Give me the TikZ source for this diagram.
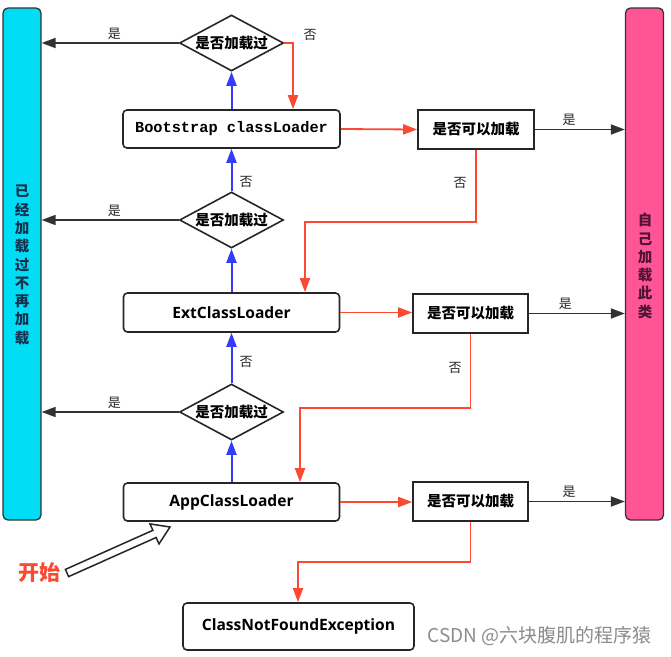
\documentclass[tikz,border=0pt]{standalone}
\usepackage{fontspec}
\setmainfont{Open Sans}
\setmonofont{Liberation Mono}
\newfontfamily\cjk{Noto Sans CJK SC}
\usetikzlibrary{arrows.meta,shapes.geometric}
\definecolor{cyanbar}{RGB}{0,221,245}
\definecolor{pinkbar}{RGB}{255,85,150}
\definecolor{redline}{RGB}{250,75,50}
\definecolor{blueline}{RGB}{50,60,250}
\definecolor{darkline}{RGB}{50,50,50}
\begin{document}
\begin{tikzpicture}[x=1pt,y=-1pt,
  box/.style={draw=black!85,line width=1.6pt,rounded corners=4pt,fill=white,inner sep=0pt},
  qbox/.style={draw=black!85,line width=1.6pt,fill=white,inner sep=0pt,minimum width=115,minimum height=39,
     font=\cjk\bfseries\fontsize{14.5}{16}\selectfont},
  dia/.style={diamond,draw=black!85,line width=1.6pt,fill=white,inner sep=0pt,aspect=2,minimum width=104,minimum height=56,
     font=\cjk\bfseries\fontsize{14.5}{16}\selectfont},
  bar/.style={draw=black!80,line width=1.3pt,rounded corners=5pt,inner sep=0pt,minimum width=38,minimum height=512},
  tip/.style={-{Triangle[length=14pt,width=10pt]}},
  redarr/.style={draw=redline,line width=1.8pt,tip},
  bluearr/.style={draw=blueline,line width=2pt,tip},
  blackarr/.style={draw=darkline,line width=1.8pt,tip},
  lab/.style={font=\cjk\fontsize{13}{14}\selectfont,text=black!85,inner sep=1pt},
  bartext/.style={font=\cjk\bfseries\fontsize{14.5}{18.3}\selectfont,align=center}
]
\useasboundingbox (0,0) rectangle (671,656);
\fill[white] (0,0) rectangle (671,656);

% side bars
\node[bar,fill=cyanbar] (lbar) at (22,264) {};
\node[bar,fill=pinkbar] (rbar) at (644.5,264) {};
\node[bartext,text={rgb,255:red,20;green,50;blue,80}] (ltext) at (22,265) {已\\经\\加\\载\\过\\不\\再\\加\\载};
\node[bartext,text={rgb,255:red,80;green,20;blue,50}] (rtext) at (645,266) {自\\己\\加\\载\\此\\类};

% loaders
\node[box,minimum width=217,minimum height=38,font=\ttfamily\bfseries\fontsize{15.3}{16}\selectfont] (boot) at (231.5,129) {Bootstrap classLoader};
\node[box,minimum width=216,minimum height=39,font=\bfseries\fontsize{15.6}{16}\selectfont] (ext) at (231.5,312.5) {ExtClassLoader};
\node[box,minimum width=216,minimum height=38,font=\bfseries\fontsize{15.6}{16}\selectfont] (app) at (231.5,502) {AppClassLoader};
\node[box,minimum width=231,minimum height=47,font=\bfseries\fontsize{15.6}{16}\selectfont] (cnfe) at (298.5,626.5) {ClassNotFoundException};

% diamonds
\node[dia] (d1) at (231.5,43) {是否加载过};
\node[dia] (d2) at (231.5,220) {是否加载过};
\node[dia] (d3) at (231.5,412) {是否加载过};

% can-load boxes
\node[qbox,minimum width=116] (q1) at (476,129.5) {是否可以加载};
\node[qbox] (q2) at (470.5,313.5) {是否可以加载};
\node[qbox] (q3) at (470.5,501.5) {是否可以加载};

% blue upward arrows
\draw[bluearr] (app.north) -- (d3.south);
\draw[bluearr] (d3.north) -- (ext.south);
\draw[bluearr] (ext.north) -- (d2.south);
\draw[bluearr] (d2.north) -- (boot.south);
\draw[bluearr] (boot.north) -- (d1.south);
\node[lab] (n2) at (246,182) {否};
\node[lab] (n3) at (246,362) {否};

% already loaded -> left bar
\draw[blackarr] (d1.west) -- node[lab,above=2pt,pos=0.47] (y1) {是} (lbar.east |- d1.west);
\draw[blackarr] (d2.west) -- node[lab,above=2pt,pos=0.47] (y2) {是} (lbar.east |- d2.west);
\draw[blackarr] (d3.west) -- node[lab,above=2pt,pos=0.47] (y3) {是} (lbar.east |- d3.west);

% top diamond no -> bootstrap
\draw[redarr] (d1.east) -| ([xshift=61.5pt]boot.north);
\node[lab] (n1) at (310,35) {否};

% loaders -> can-load boxes
\draw[redarr] (boot.east) -- (q1.west);
\draw[redarr] (ext.east) -- (q2.west |- ext.east);
\draw[redarr] (app.east) -- (q3.west |- app.east);

% can-load yes -> right bar
\draw[blackarr] (q1.east) -- node[lab,above=2pt,pos=0.38] (y4) {是} (rbar.west |- q1.east);
\draw[blackarr] (q2.east) -- node[lab,above=2pt,pos=0.38] (y5) {是} (rbar.west |- q2.east);
\draw[blackarr] (q3.east) -- node[lab,above=2pt,pos=0.42] (y6) {是} (rbar.west |- q3.east);

% can-load no -> next loader
\coordinate (c1) at (305,222);
\coordinate (c2) at (300,408);
\coordinate (c3) at (298,562);
\draw[redarr] (q1.south) |- (c1) -- (c1 |- ext.north);
\draw[redarr] (q2.south) |- (c2) -- (c2 |- app.north);
\draw[redarr] (q3.south) |- (c3) -- (c3 |- cnfe.north);
\node[lab] (n4) at (460,183) {否};
\node[lab] (n5) at (455,368) {否};

% start
\node[font=\cjk\bfseries\fontsize{21}{22}\selectfont,text=redline] (start) at (39,573) {开始};
\draw[line width=1.5pt,draw=black!85,fill=white,line join=miter]
  (68.6,576.6) -- (156.1,537.5) -- (159.0,543.9) -- (170,527) -- (150.0,523.9) -- (152.9,530.3) -- (65.4,569.4) -- cycle;

% watermark
\node[font=\cjk\fontsize{19}{20}\selectfont,text=black!45,anchor=west] (wm) at (424,636) {CSDN @六块腹肌的程序猿};
\end{tikzpicture}
\end{document}
